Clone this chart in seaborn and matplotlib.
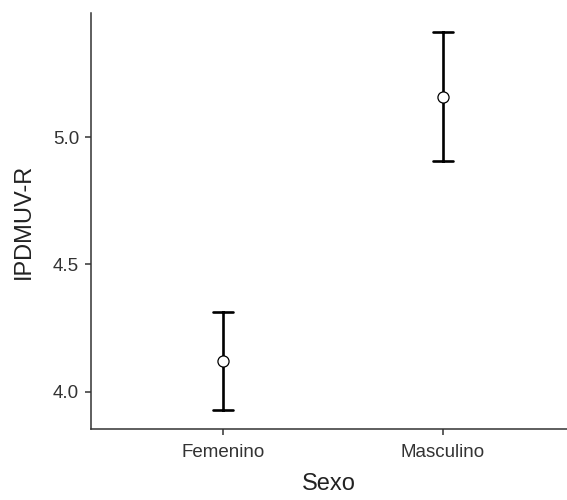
import matplotlib
matplotlib.use("Agg")
import matplotlib.pyplot as plt
import seaborn as sns
import pandas as pd
import numpy as np

categories = ["Femenino", "Masculino"]
means = [4.12, 5.158]
lower = [3.927, 4.905]
upper = [4.314, 5.413]

rows = []
for c, lo, m, hi in zip(categories, lower, means, upper):
    for v in (lo, m, hi):
        rows.append({"Sexo": c, "IPDMUV-R": v})
df = pd.DataFrame(rows)

sns.set_theme(style="ticks")
plt.rcParams["font.family"] = ["Liberation Sans", "DejaVu Sans"]

fig = plt.figure(figsize=(5.67, 5.0), dpi=100)
ax = fig.add_axes([91/567, 1 - 429/500, 1 - 91/567, (429 - 13)/500])

sns.pointplot(data=df, x="Sexo", y="IPDMUV-R", order=categories,
              estimator="median", errorbar=lambda x: (np.min(x), np.max(x)),
              capsize=0.095, linestyle="none", color="black",
              err_kws={"linewidth": 1.9, "color": "black"},
              markers="o", markersize=8, markerfacecolor="white",
              markeredgecolor="black", markeredgewidth=0.9, ax=ax)
for ln in ax.lines:
    if ln.get_marker() == "o":
        ln.set_zorder(5)

ax.set_xlim(-0.6, 1 + (567 - 443) / 220)
ax.set_ylim(3.854, 5.487)
ax.set_yticks([4.0, 4.5, 5.0])
ax.set_yticklabels(["4.0", "4.5", "5.0"])
sns.despine(ax=ax)
for s in ("left", "bottom"):
    ax.spines[s].set_color("#333333")
    ax.spines[s].set_linewidth(1.1)
ax.tick_params(axis="both", colors="#333333", labelcolor="#333333",
               labelsize=13.5, length=4, width=1.1)
ax.tick_params(axis="y", pad=4.5)
ax.tick_params(axis="x", pad=6.5)
ax.set_xlabel("Sexo", fontsize=17, color="#222222", labelpad=9)
ax.set_ylabel("IPDMUV-R", fontsize=17, color="#222222", labelpad=13)

fig.savefig("out.png", dpi=100)
